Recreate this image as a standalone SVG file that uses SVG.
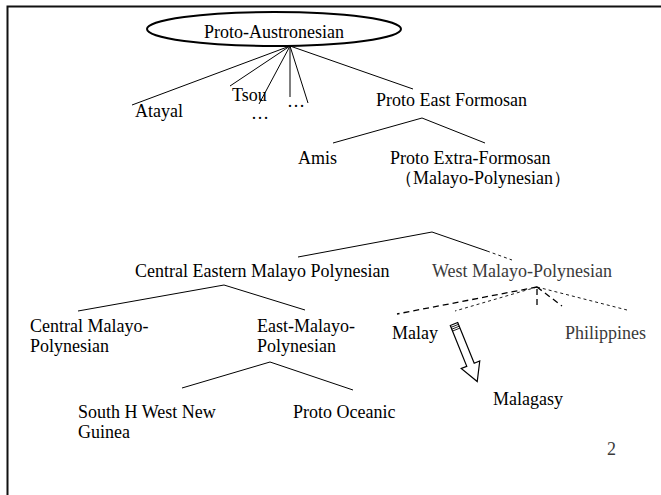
<svg xmlns="http://www.w3.org/2000/svg" width="661" height="495" viewBox="0 0 661 495">
<style>
text{font-family:"Liberation Serif","Times New Roman",serif;fill:#000;font-size:18px}
.g{fill:#3a3a3a}
.ln{stroke:#000;stroke-width:1;fill:none}
.d1{stroke:#000;stroke-width:1.3;fill:none;stroke-dasharray:6 4}
.d2{stroke:#000;stroke-width:0.9;fill:none;stroke-dasharray:3 3}
</style>
<rect width="661" height="495" fill="#fff"/>
<path d="M7.5 495V6.5H661" fill="none" stroke="#111" stroke-width="2"/>
<g id="connectors">
<path class="ln" d="M290 46L132 105M290 46L230 86M290 46L259 104M290 46L290 97M290 46L308 103M290 46L413 89"/>
<path class="ln" d="M422 118L333 143M422 118L485 143"/>
<path class="ln" d="M432 232L298 257M432 232L487 251"/>
<path class="d2" d="M487 251L512 260"/>
<path class="ln" d="M224 285L78 311M224 285L305 310"/>
<path class="ln" d="M270 362L182 388M270 362L353 390"/>
<path class="d1" d="M537 287L397 314"/>
<path class="d2" d="M537 287L455 311M537 287L627 310"/>
<path class="d1" d="M537 289L537 306M537 287L562 306"/>
</g>
<g id="n-pa"><ellipse cx="274" cy="29" rx="127" ry="17" fill="none" stroke="#000" stroke-width="2"/><text x="274" y="38" text-anchor="middle" font-size="27">Proto-Austronesian</text></g>
<g id="n-atayal"><text x="135" y="117">Atayal</text></g>
<g id="n-tsou"><text x="232" y="101">Tsou</text></g>
<g id="n-dots1"><text x="251" y="119">…</text></g>
<g id="n-dots2"><text x="287" y="107">…</text></g>
<g id="n-pef"><text x="376" y="106">Proto East Formosan</text></g>
<g id="n-amis"><text x="298" y="164">Amis</text></g>
<g id="n-pxf"><text x="390" y="164">Proto Extra-Formosan</text><text x="395" y="184">（Malayo-Polynesian）</text></g>
<g id="n-cemp"><text x="135" y="277">Central Eastern Malayo Polynesian</text></g>
<g id="n-wmp"><text class="g" x="432" y="277">West Malayo-Polynesian</text></g>
<g id="n-cmp"><text x="30" y="332">Central Malayo-</text><text x="30" y="352">Polynesian</text></g>
<g id="n-emp"><text x="257" y="332">East-Malayo-</text><text x="257" y="352">Polynesian</text></g>
<g id="n-malay"><text x="392" y="339">Malay</text></g>
<g id="n-phil"><text class="g" x="565" y="339">Philippines</text></g>
<g id="n-shwng"><text x="78" y="418">South H West New</text><text x="78" y="438">Guinea</text></g>
<g id="n-po"><text x="293" y="418">Proto Oceanic</text></g>
<g id="arrow" transform="translate(454 324) rotate(68)">
<path d="M0 -4H44V-10L62 0L44 10V4H0Z" fill="#fff" stroke="#000" stroke-width="1.2"/>
<path d="M2 -4V4M4 -4V4M6 -4V4" stroke="#000" stroke-width="0.8"/>
</g>
<g id="n-malagasy"><text x="493" y="405" font-size="23">Malagasy</text></g>
<text class="g" x="607" y="455" font-size="11">2</text>
</svg>
